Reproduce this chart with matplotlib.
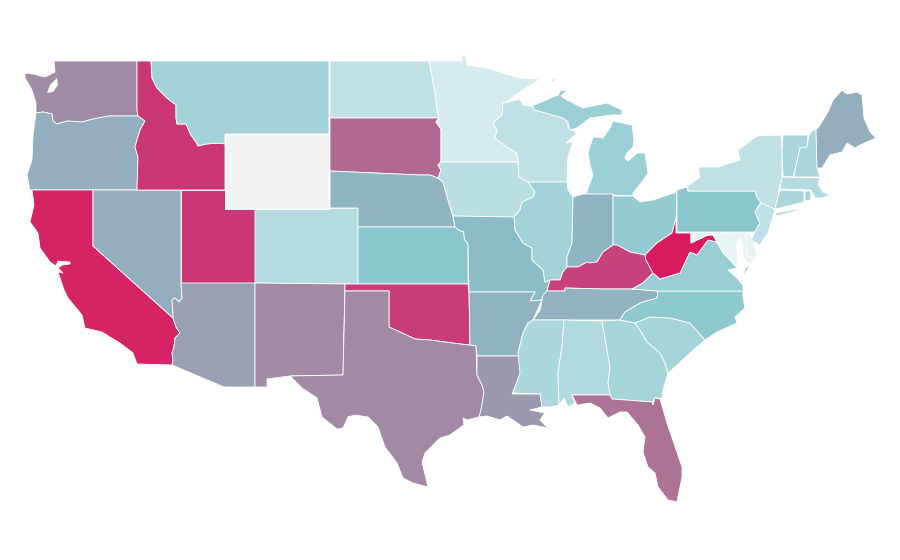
import matplotlib
matplotlib.use("Agg")
import matplotlib.pyplot as plt
from matplotlib.colors import LinearSegmentedColormap, Normalize
from matplotlib.patches import Polygon

# Values per state, read from the shades of the picture (WY has no data)
states = ["WA", "OR", "CA", "NV", "ID", "UT", "AZ", "MT", "WY", "CO", "NM",
          "ND", "SD", "NE", "KS", "OK", "TX", "MN", "IA", "MO", "AR", "LA",
          "WI", "IL", "MI", "IN", "OH", "KY", "TN", "MS", "AL", "GA", "FL",
          "SC", "NC", "VA", "WV", "MD", "DE", "PA", "NJ", "NY", "CT", "RI",
          "MA", "VT", "NH", "ME"]
values = [64, 48, 97, 48, 91, 91, 55, 25, float("nan"), 19, 65,
          15, 75, 44, 34, 89, 65, 7, 17, 40, 45, 58,
          15, 25, 28, 44, 31, 87, 46, 22, 20, 24, 72,
          24, 33, 29, 100, 0, 1, 34, 15, 15, 23, 25,
          19, 23, 23, 48]

# Colour scale
scale_stops = [0.0, 0.35, 0.5, 0.65, 1.0]
scale_colors = ["#e8f4f6", "#88c6cc", "#95aab9", "#a28aa5", "#d91a60"]
no_data_color = "#f2f3f5"

# State outlines in picture coordinates, one list per separate piece
outlines = {
    "WA": [[(54, 61), (137, 61), (137, 110), (138, 116), (109, 116), (93, 119),
            (82, 122), (67, 121), (57, 124), (53, 121), (52, 114), (43, 112),
            (36, 113), (36, 103), (32, 90), (25, 78), (25, 73), (33, 74),
            (45, 77), (55, 72)]],
    "OR": [[(36, 113), (43, 112), (52, 114), (53, 121), (57, 124), (67, 121),
            (82, 122), (93, 119), (109, 116), (138, 116), (145, 121), (140, 130),
            (137, 140), (135, 147), (138, 157), (137, 190), (30, 190), (27, 175),
            (32, 160), (33, 135)]],
    "CA": [[(32, 190), (93, 190), (93, 246), (173, 318), (176, 327), (180, 333),
            (175, 338), (174, 347), (172, 353), (173, 360), (172, 365), (137, 364),
            (133, 353), (120, 343), (110, 337), (102, 332), (85, 328), (82, 315),
            (68, 298), (64, 290), (58, 272), (63, 273), (58, 268), (62, 265),
            (70, 264), (70, 262), (58, 261), (56, 266), (50, 262), (40, 248),
            (38, 233), (30, 222), (34, 205)]],
    "NV": [[(93, 190), (181, 190), (181, 283), (182, 298), (179, 302), (175, 298),
            (172, 300), (173, 313), (173, 318), (93, 246)]],
    "ID": [[(137, 61), (151, 61), (152, 78), (157, 88), (167, 98), (176, 105),
            (176, 118), (177, 124), (186, 124), (191, 135), (196, 142), (198, 146),
            (206, 144), (220, 143), (225, 144), (225, 190), (137, 190), (138, 157),
            (135, 147), (137, 140), (140, 130), (145, 121), (138, 116), (137, 110)]],
    "UT": [[(181, 190), (225, 190), (225, 209), (255, 209), (255, 283), (181, 283)]],
    "AZ": [[(181, 283), (255, 283), (255, 387), (224, 387), (172, 365), (173, 360),
            (172, 353), (174, 347), (175, 338), (180, 333), (176, 327), (173, 318),
            (173, 313), (172, 300), (175, 298), (179, 302), (182, 298)]],
    "MT": [[(151, 61), (329, 61), (329, 134), (225, 134), (225, 144), (220, 143),
            (206, 144), (198, 146), (196, 142), (191, 135), (186, 124), (177, 124),
            (176, 118), (176, 105), (167, 98), (157, 88), (152, 78)]],
    "WY": [[(225, 134), (329, 134), (329, 209), (225, 209)]],
    "CO": [[(255, 209), (358, 208), (358, 284), (255, 283)]],
    "NM": [[(255, 283), (345, 284), (343, 375), (290, 376), (267, 379), (267, 387),
            (255, 387)]],
    "ND": [[(330, 61), (429, 61), (432, 77), (435, 93), (437, 110), (439, 118),
            (330, 118)]],
    "SD": [[(330, 118), (439, 118), (436, 122), (441, 129), (441, 162), (438, 165),
            (441, 170), (438, 178), (430, 175), (420, 175), (330, 171)]],
    "NE": [[(330, 171), (420, 175), (430, 175), (438, 178), (443, 182), (448, 200),
            (453, 216), (455, 227), (358, 227), (358, 208), (330, 208)]],
    "KS": [[(358, 227), (455, 227), (460, 231), (463, 231), (465, 240), (468, 244),
            (468, 284), (358, 284)]],
    "OK": [[(345, 284), (468, 284), (469, 292), (470, 345), (460, 344), (445, 342),
            (430, 340), (415, 339), (400, 332), (389, 327), (389, 291), (345, 291)]],
    "TX": [[(345, 291), (389, 291), (389, 327), (400, 332), (415, 339), (430, 340),
            (445, 342), (460, 344), (470, 345), (476, 346), (477, 375), (482, 385),
            (484, 392), (481, 410), (479, 417), (467, 420), (463, 418), (464, 425),
            (450, 435), (440, 438), (435, 443), (425, 453), (422, 462), (428, 487),
            (413, 483), (403, 478), (397, 463), (385, 447), (378, 427), (368, 417),
            (355, 415), (348, 417), (343, 428), (337, 429), (322, 417), (317, 398),
            (302, 388), (290, 376), (343, 375)]],
    "MN": [[(429, 61), (462, 61), (462, 55), (465, 55), (467, 65), (487, 68),
            (502, 73), (520, 78), (540, 79), (520, 92), (505, 103), (503, 103),
            (502, 115), (493, 123), (497, 130), (495, 138), (507, 147), (517, 153),
            (518, 162), (441, 162), (441, 129), (436, 122), (439, 118), (437, 110),
            (435, 93), (432, 77)]],
    "IA": [[(441, 162), (518, 162), (519, 177), (528, 182), (535, 192), (533, 197),
            (522, 202), (520, 210), (514, 217), (453, 216), (448, 200), (443, 182),
            (438, 178), (441, 170), (438, 165)]],
    "MO": [[(453, 216), (514, 217), (515, 230), (523, 243), (532, 248), (532, 260),
            (543, 270), (545, 282), (550, 280), (547, 291), (542, 300), (530, 301),
            (535, 292), (469, 292), (468, 244), (465, 240), (463, 231), (460, 231),
            (455, 227)]],
    "AR": [[(469, 292), (535, 292), (530, 301), (542, 300), (533, 320), (528, 323),
            (523, 333), (518, 353), (519, 356), (477, 356), (476, 346), (470, 345)]],
    "LA": [[(477, 356), (519, 356), (521, 373), (512, 394), (540, 394), (542, 407),
            (530, 410), (545, 413), (540, 420), (548, 428), (533, 425), (523, 427),
            (507, 416), (500, 420), (487, 416), (479, 417), (481, 410), (484, 392),
            (482, 385), (477, 375)]],
    "WI": [[(505, 103), (520, 99), (523, 105), (533, 107), (535, 110), (563, 118),
            (568, 122), (568, 128), (572, 130), (577, 133), (566, 143), (573, 142),
            (568, 157), (567, 182), (528, 182), (519, 177), (518, 162), (517, 153),
            (507, 147), (495, 138), (497, 130), (493, 123), (502, 115), (503, 103)]],
    "IL": [[(528, 182), (567, 182), (568, 190), (573, 197), (572, 243), (567, 257),
            (567, 267), (563, 272), (560, 280), (550, 280), (545, 282), (543, 270),
            (532, 260), (532, 248), (523, 243), (515, 230), (514, 217), (520, 210),
            (522, 202), (533, 197), (535, 192)]],
    "MI": [[(586, 194), (613, 195), (633, 196), (633, 193), (642, 182), (648, 173),
            (645, 153), (637, 153), (628, 161), (625, 158), (627, 153), (633, 147),
            (634, 140), (632, 125), (613, 121), (610, 128), (603, 138), (593, 137),
            (588, 153), (590, 165), (593, 175), (590, 183)],
           [(532, 106), (558, 95), (560, 91), (568, 90), (561, 96), (567, 100),
            (583, 108), (607, 103), (622, 110), (622, 115), (612, 115), (590, 118),
            (577, 128), (570, 130), (568, 122), (563, 118), (535, 110)],
           [(549, 81), (556, 78), (554, 81)]],
    "IN": [[(573, 197), (583, 194), (613, 194), (613, 245), (603, 252), (597, 262),
            (590, 263), (587, 262), (578, 267), (567, 267), (567, 257), (572, 243)]],
    "OH": [[(613, 196), (633, 196), (640, 202), (653, 200), (677, 192), (676, 220),
            (672, 233), (657, 243), (652, 248), (645, 255), (630, 252), (617, 245),
            (613, 245)]],
    "KY": [[(632, 289), (643, 283), (653, 273), (646, 260), (645, 255), (630, 252),
            (617, 245), (613, 245), (603, 252), (597, 262), (590, 263), (587, 262),
            (578, 267), (567, 267), (563, 272), (560, 280), (550, 280), (547, 291),
            (565, 291), (565, 288), (603, 289)]],
    "TN": [[(565, 288), (603, 289), (632, 289), (658, 291), (657, 298), (640, 303),
            (625, 312), (620, 320), (533, 320), (540, 310), (543, 295), (547, 291),
            (565, 291)]],
    "MS": [[(533, 320), (564, 320), (562, 347), (558, 373), (559, 405), (550, 407),
            (542, 407), (540, 394), (513, 393), (520, 373), (518, 353), (523, 333),
            (528, 323)]],
    "AL": [[(564, 320), (602, 321), (610, 367), (608, 383), (610, 395), (572, 395),
            (575, 403), (568, 407), (564, 398), (559, 405), (558, 373), (562, 347)]],
    "GA": [[(602, 321), (620, 320), (635, 323), (640, 330), (647, 342), (660, 353),
            (665, 363), (668, 373), (663, 390), (662, 398), (655, 398), (653, 402),
            (612, 399), (610, 395), (608, 383), (610, 367)]],
    "FL": [[(572, 395), (610, 395), (612, 399), (652, 402), (653, 405), (655, 398),
            (660, 399), (667, 423), (682, 467), (682, 477), (677, 502), (668, 500),
            (658, 487), (655, 473), (648, 467), (643, 452), (645, 437), (638, 425),
            (627, 412), (620, 412), (608, 418), (600, 408), (590, 403), (577, 405)]],
    "SC": [[(635, 323), (650, 317), (670, 318), (690, 323), (705, 340), (690, 353),
            (677, 365), (668, 373), (665, 363), (660, 353), (647, 342), (640, 330)]],
    "NC": [[(658, 291), (743, 291), (743, 298), (745, 308), (735, 317), (737, 323),
            (717, 332), (705, 340), (690, 323), (670, 318), (650, 317), (635, 323),
            (620, 320), (625, 312), (640, 303), (657, 298)]],
    "VA": [[(717, 242), (723, 253), (732, 262), (737, 268), (728, 270), (737, 278),
            (743, 285), (743, 291), (658, 291), (632, 289), (643, 283), (653, 273),
            (660, 279), (680, 273), (690, 252), (697, 255), (708, 240)],
           [(750, 265), (745, 268), (743, 277)]],
    "WV": [[(676, 218), (676, 233), (691, 233), (691, 243), (708, 235), (713, 235),
            (717, 242), (708, 240), (697, 255), (690, 252), (680, 273), (660, 279),
            (653, 273), (646, 260), (645, 255), (652, 248), (657, 243), (672, 233)]],
    "MD": [[(691, 233), (746, 231), (747, 257), (756, 257), (750, 265), (744, 258),
            (742, 243), (740, 238), (736, 245), (738, 258), (737, 268), (732, 262),
            (723, 253), (717, 242), (713, 235), (708, 235), (691, 243)]],
    "DE": [[(747, 231), (753, 240), (757, 257), (747, 257), (746, 237)]],
    "PA": [[(677, 190), (687, 187), (688, 191), (755, 191), (757, 197), (761, 202),
            (755, 212), (760, 223), (755, 232), (677, 232)]],
    "NJ": [[(761, 203), (775, 209), (772, 220), (768, 233), (760, 245), (751, 240),
            (755, 232), (760, 223), (755, 212)]],
    "NY": [[(688, 191), (688, 186), (700, 177), (698, 167), (718, 167), (740, 160),
            (738, 150), (757, 136), (781, 135), (782, 150), (782, 177), (779, 190),
            (778, 197), (775, 209), (761, 203), (757, 197), (755, 191)],
           [(775, 213), (802, 208), (793, 212), (777, 216)]],
    "CT": [[(780, 190), (804, 191), (804, 202), (780, 208), (775, 209), (778, 197)]],
    "RI": [[(805, 191), (810, 191), (811, 200), (805, 201)]],
    "MA": [[(782, 177), (820, 178), (818, 184), (823, 192), (830, 195), (823, 198),
            (815, 198), (811, 190), (780, 189)]],
    "VT": [[(783, 135), (808, 135), (807, 147), (800, 148), (795, 170), (793, 177),
            (783, 176), (782, 150)]],
    "NH": [[(809, 135), (813, 130), (816, 130), (817, 168), (820, 177), (794, 177),
            (795, 170), (800, 148), (807, 147)]],
    "ME": [[(816, 130), (818, 128), (828, 112), (833, 100), (842, 90), (847, 94),
            (857, 92), (862, 95), (864, 118), (870, 132), (876, 138), (860, 145),
            (855, 148), (847, 143), (842, 152), (830, 155), (822, 168), (817, 168)]],
}

# Puget Sound, painted white over Washington
puget_sound = [(50, 85), (57, 78), (58, 85), (53, 92), (47, 93)]

fig, ax = plt.subplots(figsize=(9, 5.6), dpi=100)
fig.subplots_adjust(left=0, right=1, bottom=0, top=1)

cmap = LinearSegmentedColormap.from_list("choropleth", list(zip(scale_stops, scale_colors)))
cmap.set_bad(no_data_color)
norm = Normalize(0, 100)

# Wyoming goes last so that its pale block keeps its full size
order = sorted(range(len(states)), key=lambda i: states[i] == "WY")
for i in order:
    color = cmap(norm(values[i]))
    for ring in outlines[states[i]]:
        ax.add_patch(Polygon(ring, closed=True, facecolor=color,
                             edgecolor="white", linewidth=0.6))

ax.add_patch(Polygon(puget_sound, closed=True, facecolor="white", edgecolor="none"))

ax.set_xlim(0, 900)
ax.set_ylim(560, 0)
ax.axis("off")

fig.savefig("out.png", dpi=100, facecolor="white")
